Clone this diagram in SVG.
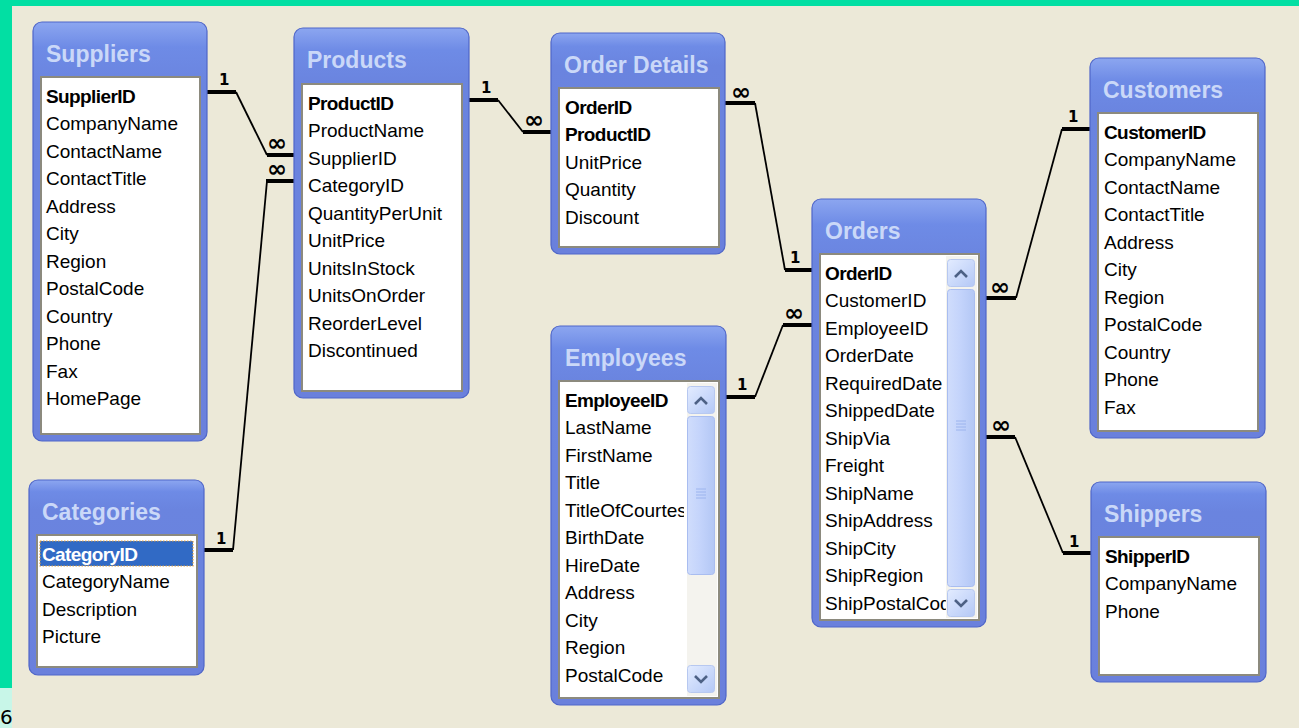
<svg xmlns="http://www.w3.org/2000/svg" width="1299" height="728" viewBox="0 0 1299 728">
<defs>
<linearGradient id="frame" x1="0" y1="0" x2="0" y2="1" gradientUnits="objectBoundingBox">
<stop offset="0" stop-color="#8CA6F0"/>
<stop offset="0.06" stop-color="#6E8BE6"/>
<stop offset="0.15" stop-color="#6A84DF"/>
<stop offset="1" stop-color="#6A80DC"/>
</linearGradient>
<linearGradient id="btn" x1="0" y1="0" x2="1" y2="1">
<stop offset="0" stop-color="#E3ECFF"/>
<stop offset="1" stop-color="#B4C8F6"/>
</linearGradient>
<linearGradient id="thumb" x1="0" y1="0" x2="1" y2="0">
<stop offset="0" stop-color="#D0DDFC"/>
<stop offset="0.5" stop-color="#C3D3FB"/>
<stop offset="1" stop-color="#B3C7F5"/>
</linearGradient>
<clipPath id="clipOrders"><rect x="820" y="254" width="126" height="366"/></clipPath>
<clipPath id="clipEmp"><rect x="559" y="381" width="125" height="317"/></clipPath>
</defs>
<style>
.win{fill:url(#frame);stroke:#4F66C9;stroke-width:1.2}
.list{fill:#FFFFFF;stroke:#8C8A7E;stroke-width:2}
.title{font-family:"Liberation Sans",Arial,sans-serif;font-size:23px;font-weight:bold;fill:#CAD8F8}
.row{font-family:"Liberation Sans",Arial,sans-serif;font-size:19px;fill:#000000}
.key{font-family:"Liberation Sans",Arial,sans-serif;font-size:19px;font-weight:bold;fill:#000000;letter-spacing:-0.6px}
.stub{stroke:#000;stroke-width:4;fill:none}
.thin{stroke:#000;stroke-width:1.8;fill:none}
.one{font-family:"DejaVu Sans",sans-serif;font-size:15px;font-weight:bold;fill:#000}
.many{font-family:"DejaVu Sans",sans-serif;font-size:24px;font-weight:bold;fill:#000}
.track{fill:#F4F3EE}
.sbtn{fill:url(#btn);stroke:#B7C8F0;stroke-width:1}
.sthumb{fill:url(#thumb);stroke:#A9BDF0;stroke-width:1}
.arrow{fill:none;stroke:#4D6185;stroke-width:2.6}
.grip{stroke:#9CB4EE;stroke-width:1}
</style>
<rect x="0" y="0" width="1299" height="728" fill="#ECE9D8"/>
<rect x="0" y="0" width="1299" height="6" fill="#02DFA3"/>
<rect x="0" y="0" width="12" height="688" fill="#02DFA3"/>
<rect x="0" y="688" width="12" height="40" fill="#C8F6E8"/>
<text x="0" y="724" font-family="DejaVu Sans, sans-serif" font-size="20" fill="#000">6</text>

<g id="connectors">
<path class="stub" d="M207 92H236"/>
<path class="thin" d="M236 92L267 155"/>
<path class="stub" d="M267 155H294"/>
<text class="one" x="219" y="85">1</text>
<text class="many" x="267" y="151">∞</text>

<path class="stub" d="M204 550H233"/>
<path class="thin" d="M233 550L267 181"/>
<path class="stub" d="M266 181H294"/>
<text class="one" x="216" y="544">1</text>
<text class="many" x="267" y="177">∞</text>

<path class="stub" d="M469 100H498"/>
<path class="thin" d="M498 100L523 132"/>
<path class="stub" d="M523 132H551"/>
<text class="one" x="481" y="93">1</text>
<text class="many" x="524" y="128">∞</text>

<path class="stub" d="M725 103H755"/>
<path class="thin" d="M755 103L785 270"/>
<path class="stub" d="M785 270H812"/>
<text class="many" x="731" y="100">∞</text>
<text class="one" x="790" y="263">1</text>

<path class="stub" d="M726 397H755"/>
<path class="thin" d="M755 397L783 325"/>
<path class="stub" d="M783 325H812"/>
<text class="one" x="737" y="390">1</text>
<text class="many" x="784" y="321">∞</text>

<path class="stub" d="M986 298H1016"/>
<path class="thin" d="M1016 298L1062 129"/>
<path class="stub" d="M1062 129H1090"/>
<text class="many" x="990" y="295">∞</text>
<text class="one" x="1068" y="122">1</text>

<path class="stub" d="M986 437H1015"/>
<path class="thin" d="M1015 437L1063 553"/>
<path class="stub" d="M1063 553H1091"/>
<text class="many" x="991" y="433">∞</text>
<text class="one" x="1069" y="547">1</text>
</g>

<g id="suppliers">
<rect class="win" x="33" y="22" width="174" height="419" rx="9"/>
<text class="title" x="46" y="62">Suppliers</text>
<rect class="list" x="41" y="77" width="159" height="357"/>
<text class="key" x="46" y="103">SupplierID</text>
<text class="row" x="46" y="130">CompanyName</text>
<text class="row" x="46" y="158">ContactName</text>
<text class="row" x="46" y="185">ContactTitle</text>
<text class="row" x="46" y="213">Address</text>
<text class="row" x="46" y="240">City</text>
<text class="row" x="46" y="268">Region</text>
<text class="row" x="46" y="295">PostalCode</text>
<text class="row" x="46" y="323">Country</text>
<text class="row" x="46" y="350">Phone</text>
<text class="row" x="46" y="378">Fax</text>
<text class="row" x="46" y="405">HomePage</text>
</g>

<g id="products">
<rect class="win" x="294" y="28" width="175" height="370" rx="9"/>
<text class="title" x="307" y="68">Products</text>
<rect class="list" x="302" y="84" width="160" height="307"/>
<text class="key" x="308" y="110">ProductID</text>
<text class="row" x="308" y="137">ProductName</text>
<text class="row" x="308" y="165">SupplierID</text>
<text class="row" x="308" y="192">CategoryID</text>
<text class="row" x="308" y="220">QuantityPerUnit</text>
<text class="row" x="308" y="247">UnitPrice</text>
<text class="row" x="308" y="275">UnitsInStock</text>
<text class="row" x="308" y="302">UnitsOnOrder</text>
<text class="row" x="308" y="330">ReorderLevel</text>
<text class="row" x="308" y="357">Discontinued</text>
</g>

<g id="order-details">
<rect class="win" x="551" y="33" width="174" height="221" rx="9"/>
<text class="title" x="564" y="73">Order Details</text>
<rect class="list" x="559" y="88" width="160" height="159"/>
<text class="key" x="565" y="114">OrderID</text>
<text class="key" x="565" y="141">ProductID</text>
<text class="row" x="565" y="169">UnitPrice</text>
<text class="row" x="565" y="196">Quantity</text>
<text class="row" x="565" y="224">Discount</text>
</g>

<g id="customers">
<rect class="win" x="1090" y="58" width="175" height="380" rx="9"/>
<text class="title" x="1103" y="98">Customers</text>
<rect class="list" x="1098" y="113" width="160" height="318"/>
<text class="key" x="1104" y="139">CustomerID</text>
<text class="row" x="1104" y="166">CompanyName</text>
<text class="row" x="1104" y="194">ContactName</text>
<text class="row" x="1104" y="221">ContactTitle</text>
<text class="row" x="1104" y="249">Address</text>
<text class="row" x="1104" y="276">City</text>
<text class="row" x="1104" y="304">Region</text>
<text class="row" x="1104" y="331">PostalCode</text>
<text class="row" x="1104" y="359">Country</text>
<text class="row" x="1104" y="386">Phone</text>
<text class="row" x="1104" y="414">Fax</text>
</g>

<g id="orders">
<rect class="win" x="812" y="199" width="174" height="428" rx="9"/>
<text class="title" x="825" y="239">Orders</text>
<rect class="list" x="820" y="254" width="159" height="366"/>
<g clip-path="url(#clipOrders)">
<text class="key" x="825" y="280">OrderID</text>
<text class="row" x="825" y="307">CustomerID</text>
<text class="row" x="825" y="335">EmployeeID</text>
<text class="row" x="825" y="362">OrderDate</text>
<text class="row" x="825" y="390">RequiredDate</text>
<text class="row" x="825" y="417">ShippedDate</text>
<text class="row" x="825" y="445">ShipVia</text>
<text class="row" x="825" y="472">Freight</text>
<text class="row" x="825" y="500">ShipName</text>
<text class="row" x="825" y="527">ShipAddress</text>
<text class="row" x="825" y="555">ShipCity</text>
<text class="row" x="825" y="582">ShipRegion</text>
<text class="row" x="825" y="610">ShipPostalCode</text>
</g>
<rect class="track" x="946" y="256" width="31" height="362"/>
<rect class="sbtn" x="947.5" y="259.5" width="27" height="27" rx="3"/>
<path class="arrow" d="M955 277L961 271L967 277"/>
<rect class="sthumb" x="947.5" y="289.5" width="27" height="297" rx="3"/>
<path class="grip" d="M956 421H966M956 424H966M956 427H966M956 430H966"/>
<rect class="sbtn" x="947.5" y="589.5" width="27" height="27" rx="3"/>
<path class="arrow" d="M955 600L961 606L967 600"/>
</g>

<g id="employees">
<rect class="win" x="551" y="326" width="175" height="379" rx="9"/>
<text class="title" x="565" y="366">Employees</text>
<rect class="list" x="559" y="381" width="160" height="317"/>
<g clip-path="url(#clipEmp)">
<text class="key" x="565" y="407">EmployeeID</text>
<text class="row" x="565" y="434">LastName</text>
<text class="row" x="565" y="462">FirstName</text>
<text class="row" x="565" y="489">Title</text>
<text class="row" x="565" y="517">TitleOfCourtesy</text>
<text class="row" x="565" y="544">BirthDate</text>
<text class="row" x="565" y="572">HireDate</text>
<text class="row" x="565" y="599">Address</text>
<text class="row" x="565" y="627">City</text>
<text class="row" x="565" y="654">Region</text>
<text class="row" x="565" y="682">PostalCode</text>
</g>
<rect class="track" x="687" y="383" width="30" height="313"/>
<rect class="sbtn" x="687.5" y="386.5" width="27" height="27" rx="3"/>
<path class="arrow" d="M695 404L701 398L707 404"/>
<rect class="sthumb" x="687.5" y="416.5" width="27" height="158" rx="3"/>
<path class="grip" d="M696 489H706M696 492H706M696 495H706M696 498H706"/>
<rect class="sbtn" x="687.5" y="665.5" width="27" height="27" rx="3"/>
<path class="arrow" d="M695 676L701 682L707 676"/>
</g>

<g id="categories">
<rect class="win" x="29" y="480" width="175" height="195" rx="9"/>
<text class="title" x="42" y="520">Categories</text>
<rect class="list" x="37" y="535" width="160" height="132"/>
<rect x="40" y="541" width="153" height="25" fill="#316AC5" stroke="#E0A040" stroke-width="1.2" stroke-dasharray="1.5 1.5"/>
<text class="key" x="42" y="561" style="fill:#FFFFFF">CategoryID</text>
<text class="row" x="42" y="588">CategoryName</text>
<text class="row" x="42" y="616">Description</text>
<text class="row" x="42" y="643">Picture</text>
</g>

<g id="shippers">
<rect class="win" x="1091" y="482" width="175" height="200" rx="9"/>
<text class="title" x="1104" y="522">Shippers</text>
<rect class="list" x="1099" y="537" width="160" height="138"/>
<text class="key" x="1105" y="563">ShipperID</text>
<text class="row" x="1105" y="590">CompanyName</text>
<text class="row" x="1105" y="618">Phone</text>
</g>
</svg>
